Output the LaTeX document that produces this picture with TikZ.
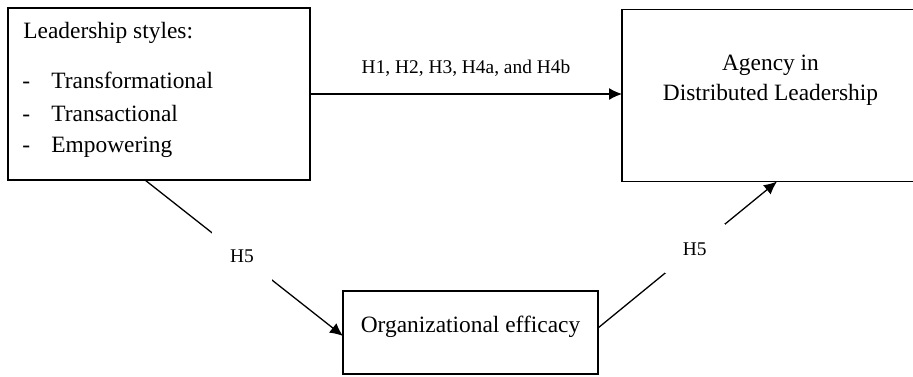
\documentclass[tikz,border=0pt]{standalone}
\usepackage{fontspec}
\setmainfont{Liberation Serif}
\usepackage{tikz}
\usetikzlibrary{arrows.meta}
\tikzset{%
	box/.style={inner sep=0pt,outer sep=0pt,shape=rectangle,draw,line width=0.6pt},
	txt/.style={inner sep=0pt,font=\fontsize{11.7}{14}\selectfont},
	link/.style={-{Latex[length=6.5pt,width=6pt]},line width=0.65pt},
	hyp/.style={fill=white,inner sep=9pt,font=\fontsize{9.7}{12}\selectfont},
}

\begin{document}
\begin{tikzpicture}[x=0.5pt,y=-0.5pt]
			\useasboundingbox (0,0) rectangle (913,376);
			
			%okvirji
			\node[box, minimum width=151pt, minimum height=86pt] (styles) at (159,94) {};
			\node[box, minimum width=148.5pt, minimum height=86pt] (agency) at (770.5,95.5) {};
			\node[box, minimum width=127.5pt, minimum height=41.5pt] (efficacy) at (470.5,332.5) {};
			
			%besedila
			\node[txt, anchor=base west] (title) at (23,38) {Leadership styles:};
			\node[txt, anchor=base west] (item1) at (22,88) {\makebox[14.5pt][l]{-}Transformational};
			\node[txt, anchor=base west] (item2) at (22,121) {\makebox[14.5pt][l]{-}Transactional};
			\node[txt, anchor=base west] (item3) at (22,152) {\makebox[14.5pt][l]{-}Empowering};
			\node[txt, anchor=base] (agency1) at (770.5,70) {Agency in};
			\node[txt, anchor=base] (agency2) at (770.5,100) {Distributed Leadership};
			\node[txt, anchor=base] (efftext) at (470.5,332) {Organizational efficacy};
			
			%puščice
			\draw[link] (styles.east) -- (styles.east -| agency.west) node[midway, anchor=base, yshift=10.5pt, font=\fontsize{9.7}{12}\selectfont] (hmain) {H1, H2, H3, H4a, and H4b};
			\draw[link] ([xshift=-7pt]styles.south) -- ([yshift=-1.75pt]efficacy.west) node[hyp, pos=0.49] (h5a) {H5};
			\draw[link] ([yshift=2.25pt]efficacy.east) -- ([xshift=3.25pt]agency.south) node[hyp, pos=0.54] (h5b) {H5};
		\end{tikzpicture}
\end{document}
